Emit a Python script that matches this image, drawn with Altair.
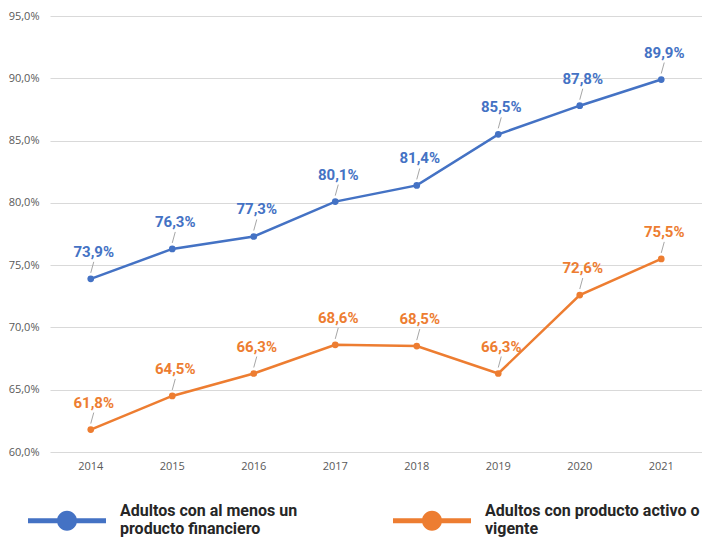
import altair as alt
import pandas as pd

years = ["2014", "2015", "2016", "2017", "2018", "2019", "2020", "2021"]
series_names = ["Adultos con al menos un producto financiero",
                "Adultos con producto activo o vigente"]
legend_lines = [["Adultos con al menos un", "producto financiero"],
                ["Adultos con producto activo o", "vigente"]]
values_a = [73.9, 76.3, 77.3, 80.1, 81.4, 85.5, 87.8, 89.9]
values_b = [61.8, 64.5, 66.3, 68.6, 68.5, 66.3, 72.6, 75.5]
y_ticks = [60, 65, 70, 75, 80, 85, 90, 95]
colors = ["#4472C4", "#ED7D31"]

rows = []
for name, vals in zip(series_names, [values_a, values_b]):
    for yr, v in zip(years, vals):
        rows.append({"year": yr, "v": v, "serie": name})
df = pd.DataFrame(rows)

label_expr = "datum.label == '%s' ? ['%s', '%s'] : ['%s', '%s']" % (
    series_names[0], legend_lines[0][0], legend_lines[0][1],
    legend_lines[1][0], legend_lines[1][1])

# legend glyph: thick line with a big dot (unit = half of sqrt(symbolSize))
sym_path = ("M-1,0.385H3V0.641H-1Z "
            "M1.513,0.513A0.513,0.513 0 1,1 0.487,0.513A0.513,0.513 0 1,1 1.513,0.513Z")

x_enc = alt.X("year:N", sort=years, title=None,
              axis=alt.Axis(labelAngle=0, domain=False, ticks=False, grid=False,
                            labelFont="Open Sans", labelFontSize=11,
                            labelColor="#595959", labelPadding=8))
y_enc = alt.Y("v:Q", title=None,
              scale=alt.Scale(domain=[60, 95], nice=False, zero=False),
              axis=alt.Axis(values=y_ticks, domain=False, ticks=False,
                            gridColor="#D9D9D9", gridWidth=1,
                            labelFont="Open Sans", labelFontSize=11,
                            labelColor="#595959", labelPadding=11,
                            labelExpr="replace(format(datum.value, '.1f'), '.', ',') + '%'"))
color_scale = alt.Scale(domain=series_names, range=colors)

base = alt.Chart(df)

points = base.mark_circle(size=45, opacity=1).encode(
    x=x_enc, y=y_enc,
    color=alt.Color("serie:N", scale=color_scale,
                    legend=alt.Legend(title=None, orient="none", direction="horizontal",
                                      legendX=-22, legendY=475,
                                      symbolType=sym_path, symbolSize=1521,
                                      symbolStrokeWidth=0, symbolOpacity=1,
                                      labelFont="Roboto", labelFontSize=16,
                                      labelFontWeight="bold",
                                      labelColor="#262626", labelOffset=53,
                                      labelLimit=400, columnPadding=95,
                                      labelExpr=label_expr)))

lines = base.mark_line(strokeWidth=2.5).encode(
    x=x_enc, y=y_enc,
    color=alt.Color("serie:N", scale=color_scale, legend=None))

leaders = base.mark_rule(color="#A6A6A6", strokeWidth=1,
                         yOffset=-6, y2Offset=-17, x2Offset=3).encode(
    x=x_enc, x2="year:N", y=y_enc, y2="v:Q")

labels = base.mark_text(font="Roboto", fontSize=15, fontWeight="bold",
                        dy=-27, dx=3).encode(
    x=x_enc, y=y_enc,
    text="lbl:N",
    color=alt.Color("serie:N", scale=color_scale, legend=None)
).transform_calculate(lbl="replace(format(datum.v, '.1f'), '.', ',') + '%'")

chart = alt.layer(points, lines, leaders, labels).properties(
    width=652, height=436,
    padding={"left": 0, "top": 2, "right": 0, "bottom": 0}
).configure_view(stroke=None)

chart.save("out.html", embed_options={"renderer": "svg", "actions": False})
